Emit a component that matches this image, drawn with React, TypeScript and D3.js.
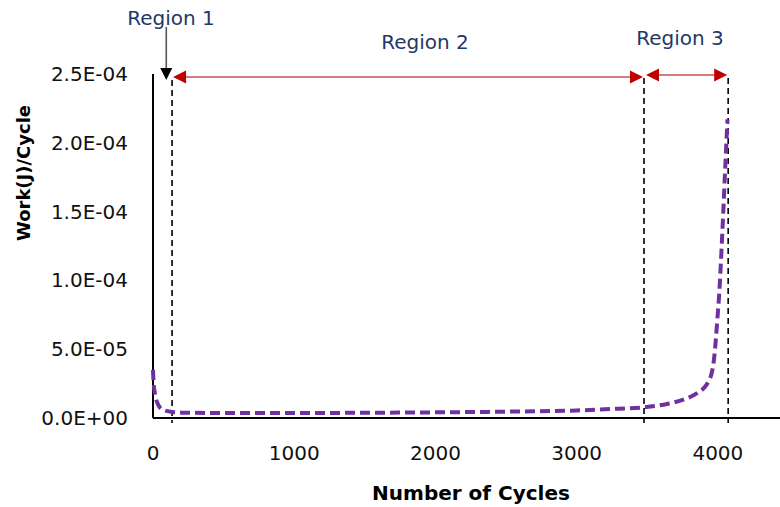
import React from "react";
import * as d3 from "d3";

const cycles = [0, 4, 16, 38, 73, 137, 200, 500, 1000, 1500, 2000, 2500, 3000, 3300, 3478, 3640, 3760, 3860, 3909, 3935, 3956, 3968, 3979, 3988, 3996, 4010, 4029, 4050, 4068];
const work = [3.5e-5, 2.6e-5, 1.67e-5, 9.4e-6, 5.8e-6, 4.4e-6, 3.9e-6, 3.6e-6, 3.6e-6, 3.8e-6, 4.1e-6, 4.6e-6, 5.5e-6, 6.8e-6, 7.8e-6, 1.02e-5, 1.35e-5, 1.85e-5, 2.27e-5, 2.68e-5, 3.25e-5, 3.9e-5, 4.9e-5, 6.0e-5, 7.12e-5, 9.08e-5, 1.29e-4, 1.77e-4, 2.17e-4];

const xTicks = [0, 1000, 2000, 3000, 4000];
const xTickLabels = ["0", "1000", "2000", "3000", "4000"];
const yTicks = [0, 5e-5, 1e-4, 1.5e-4, 2e-4, 2.5e-4];
const yTickLabels = ["0.0E+00", "5.0E-05", "1.0E-04", "1.5E-04", "2.0E-04", "2.5E-04"];

const regionBounds = [135, 3477, 4073];
const regionLabels = ["Region 1", "Region 2", "Region 3"];
const region1Pointer = 94;

const W = 780;
const H = 507;
const FONT = "'DejaVu Sans', sans-serif";
const NAVY = "#1F3864";
const RED = "#C00000";

export default function App() {
  const x = d3.scaleLinear().domain([0, 4440]).range([153, 780]);
  const y = d3.scaleLinear().domain([0, 2.5e-4]).range([418, 74]);

  const pts = cycles.map((c, i) => [c, work[i]] as [number, number]);
  const line = d3
    .line<[number, number]>()
    .x((d) => x(d[0]))
    .y((d) => y(d[1]))
    .curve(d3.curveMonotoneX);

  const x0 = x(0);
  const yTop = y(2.5e-4);
  const y0 = y(0);

  const redArrow = (xa: number, xb: number, yy: number, key: string) => {
    const L = 13;
    const h = 6.5;
    return (
      <g key={key}>
        <line x1={xa + L} x2={xb - L} y1={yy} y2={yy} stroke="#C85050" strokeWidth={1.6} />
        <polygon points={`${xa},${yy} ${xa + L},${yy - h} ${xa + L},${yy + h}`} fill={RED} />
        <polygon points={`${xb},${yy} ${xb - L},${yy - h} ${xb - L},${yy + h}`} fill={RED} />
      </g>
    );
  };

  const px1 = x(region1Pointer);

  return (
    <svg
      width={W}
      height={H}
      style={{ position: "absolute", left: 0, top: 0, background: "#fff" }}
      fontFamily={FONT}
    >
      <rect x={0} y={0} width={W} height={H} fill="#fff" />
      {regionBounds.map((b, i) => (
        <line
          key={"rb" + i}
          x1={x(b)}
          x2={x(b)}
          y1={yTop + (i === 0 ? 6 : 4)}
          y2={y0 + 5}
          stroke="#000"
          strokeWidth={1.6}
          strokeDasharray="6,4"
        />
      ))}
      <line x1={x0} x2={x0} y1={yTop} y2={y0} stroke="#000" strokeWidth={2} />
      <line x1={x0} x2={W} y1={y0} y2={y0} stroke="#000" strokeWidth={2} />
      <path
        d={line(pts) || ""}
        fill="none"
        stroke="#7030A0"
        strokeWidth={4}
        strokeDasharray="10,5"
        strokeLinecap="butt"
      />
      {yTicks.map((t, i) => (
        <text
          key={"yt" + i}
          x={128}
          y={y(t)}
          textAnchor="end"
          dominantBaseline="central"
          fontSize={20}
          fill="#111"
        >
          {yTickLabels[i]}
        </text>
      ))}
      {xTicks.map((t, i) => (
        <text
          key={"xt" + i}
          x={x(t)}
          y={453}
          textAnchor="middle"
          dominantBaseline="central"
          fontSize={20}
          fill="#111"
        >
          {xTickLabels[i]}
        </text>
      ))}
      <text
        x={471}
        y={493}
        textAnchor="middle"
        dominantBaseline="central"
        fontSize={20}
        fontWeight="bold"
        fill="#000"
      >
        Number of Cycles
      </text>
      <text
        transform={`translate(23,${(106 + 240) / 2}) rotate(-90)`}
        textAnchor="middle"
        dominantBaseline="central"
        fontSize={18}
        fontWeight="bold"
        fill="#000"
      >
        Work(J)/Cycle
      </text>
      <line x1={px1} x2={px1} y1={27} y2={68} stroke="#555" strokeWidth={1.6} />
      <polygon points={`${px1 - 6},68 ${px1 + 6},68 ${px1},80`} fill="#000" />
      {redArrow(x(regionBounds[0]) + 1, x(regionBounds[1]) - 1, 77, "r2")}
      {redArrow(x(regionBounds[1]) + 2, x(regionBounds[2]) - 1, 75, "r3")}
      <text x={171} y={18} textAnchor="middle" dominantBaseline="central" fontSize={20} fill={NAVY}>
        {regionLabels[0]}
      </text>
      <text x={425} y={42} textAnchor="middle" dominantBaseline="central" fontSize={20} fill={NAVY}>
        {regionLabels[1]}
      </text>
      <text x={680} y={38} textAnchor="middle" dominantBaseline="central" fontSize={20} fill={NAVY}>
        {regionLabels[2]}
      </text>
    </svg>
  );
}
